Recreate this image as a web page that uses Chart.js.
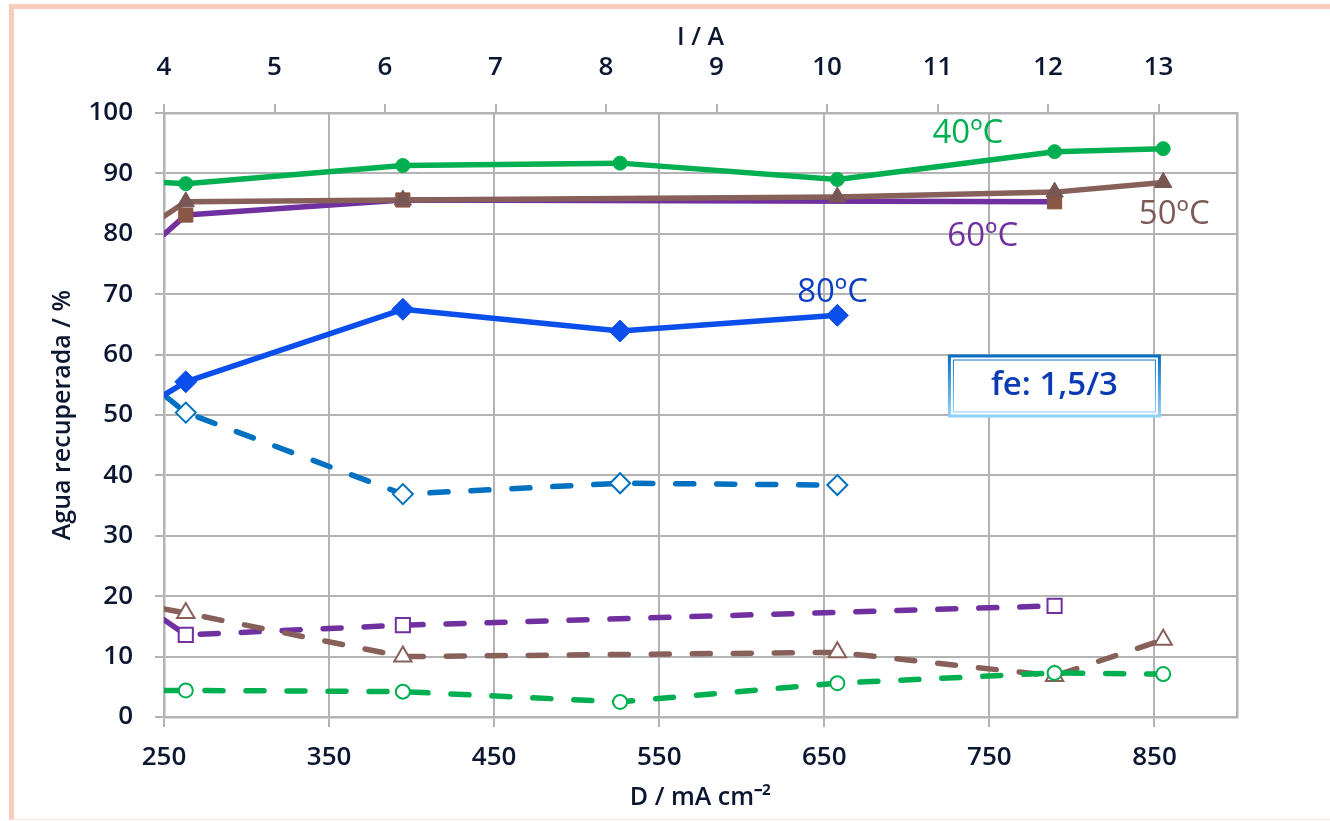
<!DOCTYPE html>
<html>
<head>
<meta charset="utf-8">
<script src="https://cdn.jsdelivr.net/npm/chart.js@4.4.1/dist/chart.umd.min.js"></script>
<style>
  html, body { margin: 0; padding: 0; background: #fff; }
  #wrap { position: relative; width: 1330px; height: 821px; overflow: hidden; }
  #frame { position: absolute; left: 9px; top: 4px; width: 1400px; height: 810px;
           border-left: 5px solid #F8CDBB; border-top: 5px solid #F8CDBB; border-bottom: 1px solid #FBE3D9;
           pointer-events: none; }
  canvas { position: absolute; left: 0; top: 0; }
</style>
</head>
<body>
<div id="wrap">
  <canvas id="chart" width="1330" height="821"></canvas>
  <div id="frame"></div>
</div>
<script>
// current density (first entry = where the lines enter at the left edge)
const density = [250, 263.2, 394.7, 526.3, 657.9, 789.5, 855.3];
const densityTicks = [250, 350, 450, 550, 650, 750, 850];
const currentTicks = [4, 5, 6, 7, 8, 9, 10, 11, 12, 13];

// water recovered, %  (solid = one stream, dashed = the other)
const t40 = [88.5, 88.3, 91.3, 91.7, 89.0, 93.6, 94.1];
const t40b = [4.4, 4.4, 4.2, 2.5, 5.6, 7.3, 7.1];
const t50 = [82.9, 85.3, 85.6, null, 86.1, 86.9, 88.5];
const t50b = [17.9, 17.2, 10.0, null, 10.7, 6.8, 12.8];
const t60 = [79.9, 83.1, 85.6, null, null, 85.3, null];
const t60b = [16.1, 13.6, 15.2, null, null, 18.4, null];
const t80 = [53.3, 55.5, 67.5, 63.9, 66.5, null, null];
const t80b = [53.3, 50.4, 36.9, 38.7, 38.4, null, null];

const GREEN = '#00B050', BROWN = '#866059', PURPLE = '#7030A0', BLUE = '#0A4EEB', BLUE2 = '#0070C0';
const TEXT = '#0B1630';
const GRID = '#B3B3B3';

function pts(vals) {
  return density.map((x, i) => ({ x: x, y: vals[i] })).filter(p => p.y !== null);
}

function series(vals, color, opts) {
  const r = opts.radius;
  return Object.assign({
    data: pts(vals),
    borderColor: color,
    borderWidth: 5.5,
    borderCapStyle: 'round',
    borderJoinStyle: 'round',
    pointRadius: ctx => ctx.dataIndex === 0 ? 0 : r,
    pointBorderColor: color,
    pointBackgroundColor: color,
    pointBorderWidth: 1,
    tension: 0,
    fill: false
  }, opts.extra || {});
}

const dashed = { borderDash: [18, 23], pointBackgroundColor: '#FFFFFF', pointBorderWidth: 2 };

const datasets = [
  series(t40, GREEN, { radius: 7, extra: { pointStyle: 'circle' } }),
  series(t50, BROWN, { radius: 10, extra: { pointStyle: 'triangle', pointBackgroundColor: '#785653', pointBorderColor: '#785653' } }),
  series(t60, PURPLE, { radius: 10, extra: { pointStyle: 'rect', pointBackgroundColor: '#8A5645', pointBorderColor: '#8A5645' } }),
  series(t80, BLUE, { radius: 11, extra: { pointStyle: 'rectRot' } }),
  series(t80b, BLUE2, { radius: 10, extra: Object.assign({ pointStyle: 'rectRot' }, dashed) }),
  series(t40b, GREEN, { radius: 7, extra: Object.assign({ pointStyle: 'circle' }, dashed) }),
  series(t50b, BROWN, { radius: 10, extra: Object.assign({ pointStyle: 'triangle', pointBorderWidth: 1.5 }, dashed) }),
  series(t60b, PURPLE, { radius: 10, extra: Object.assign({ pointStyle: 'rect', pointBorderWidth: 1.5 }, dashed) })
];

const tickFont = { family: "'Open Sans', sans-serif", size: 26, weight: '600' };
const titleFont = { family: "'Open Sans', sans-serif", size: 25, weight: '600' };

// in-plot labels, placed in data units
const notes = [
  { text: '40ºC', color: GREEN, x: 737, y: 96.6 },
  { text: '50ºC', color: '#7C5A56', x: 862, y: 83.1 },
  { text: '60ºC', color: PURPLE, x: 746, y: 79.6 },
  { text: '80ºC', color: '#0B3EC4', x: 655, y: 70.3 }
];
const boxNote = { text: 'fe: 1,5/3', x: 789.4, y: 54.8, w: 210, h: 60 };

const notesPlugin = {
  id: 'notes',
  afterDatasetsDraw(chart) {
    const ctx = chart.ctx;
    const xs = chart.scales.x, ys = chart.scales.y;
    ctx.save();
    ctx.textAlign = 'center';
    ctx.textBaseline = 'middle';
    ctx.font = "400 33px 'Open Sans', sans-serif";
    notes.forEach(n => {
      ctx.fillStyle = n.color;
      ctx.fillText(n.text, xs.getPixelForValue(n.x), ys.getPixelForValue(n.y));
    });
    const cx = xs.getPixelForValue(boxNote.x), cy = ys.getPixelForValue(boxNote.y);
    const l = cx - boxNote.w / 2, t = cy - boxNote.h / 2;
    ctx.fillStyle = '#FFFFFF';
    ctx.fillRect(l, t, boxNote.w, boxNote.h);
    const g = ctx.createLinearGradient(0, t, 0, t + boxNote.h);
    g.addColorStop(0, '#0A6EC2');
    g.addColorStop(1, '#92D1F8');
    ctx.strokeStyle = g;
    ctx.lineWidth = 3;
    ctx.strokeRect(l, t, boxNote.w, boxNote.h);
    ctx.lineWidth = 1;
    ctx.strokeRect(l + 4, t + 4, boxNote.w - 8, boxNote.h - 8);
    ctx.fillStyle = '#0A3BB5';
    ctx.font = "600 33px 'Open Sans', sans-serif";
    ctx.fillText(boxNote.text, cx, cy);
    ctx.restore();
  }
};

new Chart(document.getElementById('chart'), {
  type: 'line',
  data: { datasets: datasets },
  plugins: [notesPlugin],
  options: {
    responsive: false,
    animation: false,
    devicePixelRatio: 1,
    layout: { padding: 0 },
    plugins: { legend: { display: false }, tooltip: { enabled: false } },
    events: [],
    scales: {
      x: {
        type: 'linear', position: 'bottom', min: 250, max: 900,
        afterBuildTicks: s => { s.ticks = densityTicks.map(v => ({ value: v })); },
        afterFit: s => { s.height = 104; },
        grid: { color: GRID, lineWidth: 2, tickLength: 10, tickColor: GRID },
        border: { color: GRID, width: 2.5 },
        ticks: { font: tickFont, color: TEXT, padding: 15, maxRotation: 0 },
        title: { display: true, text: 'D / mA cm⁻²', font: titleFont, color: TEXT, padding: { top: 0, bottom: 8 } }
      },
      x2: {
        type: 'linear', position: 'top', min: 4, max: 13.71,
        afterBuildTicks: s => { s.ticks = currentTicks.map(v => ({ value: v })); },
        afterFit: s => { s.height = 113; },
        grid: { drawOnChartArea: false, color: GRID, lineWidth: 2, tickLength: 9, tickColor: GRID },
        border: { color: GRID, width: 2.5 },
        ticks: { font: tickFont, color: TEXT, padding: 21, maxRotation: 0 },
        title: { display: true, text: 'I / A', font: titleFont, color: TEXT, padding: { top: 23, bottom: 0 } }
      },
      y: {
        type: 'linear', position: 'left', min: 0, max: 100,
        afterFit: s => { s.width = 164; },
        grid: { color: GRID, lineWidth: 2, tickLength: 9, tickColor: GRID },
        border: { color: GRID, width: 2.5 },
        ticks: { stepSize: 10, font: tickFont, color: TEXT, padding: 22 },
        title: { display: true, text: 'Agua recuperada / %', font: titleFont, color: TEXT, padding: { top: 48, bottom: 0 } }
      },
      y2: {
        type: 'linear', position: 'right', min: 0, max: 100,
        afterFit: s => { s.width = 93; },
        grid: { drawOnChartArea: false, drawTicks: false },
        border: { color: GRID, width: 2.5 },
        ticks: { display: false }
      }
    }
  }
});
</script>
</body>
</html>
